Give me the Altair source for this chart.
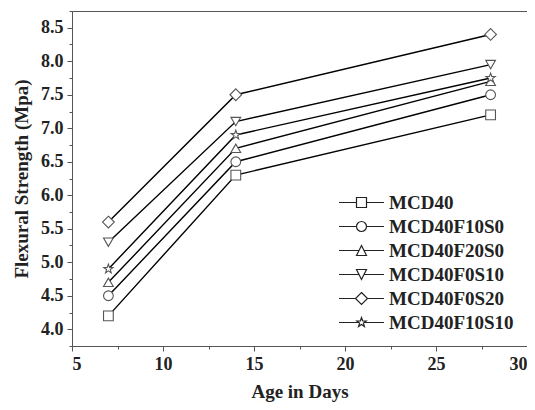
import altair as alt
import pandas as pd

days = [7, 14, 28]
series = ["MCD40", "MCD40F10S0", "MCD40F20S0", "MCD40F0S10", "MCD40F0S20", "MCD40F10S10"]
mcd40 = [4.2, 6.3, 7.2]
mcd40f10s0 = [4.5, 6.5, 7.5]
mcd40f20s0 = [4.7, 6.7, 7.7]
mcd40f0s10 = [5.3, 7.1, 7.95]
mcd40f0s20 = [5.6, 7.5, 8.4]
mcd40f10s10 = [4.9, 6.9, 7.75]

values = [mcd40, mcd40f10s0, mcd40f20s0, mcd40f0s10, mcd40f0s20, mcd40f10s10]
rows = []
for name, vals in zip(series, values):
    for d, v in zip(days, vals):
        rows.append({"series": name, "day": d, "strength": v})
df = pd.DataFrame(rows)

star = ("M0,-1L0.235,-0.324L0.951,-0.309L0.380,0.124L0.588,0.809L0,0.4"
        "L-0.588,0.809L-0.380,0.124L-0.951,-0.309L-0.235,-0.324Z")
diamond = "M0,-1.2L1.2,0L0,1.2L-1.2,0Z"
point_shapes = ["square", "circle", "triangle-up", "triangle-down", diamond, star]

L = "M-4.5,0H-1M1,0H4.5"
legend_shapes = [
    L + "M-1,-1H1V1H-1Z",
    L + "M-1,0A1,1,0,1,0,1,0A1,1,0,1,0,-1,0Z",
    "M-4.5,0H-0.5M0.5,0H4.5M0,-1L1,1H-1Z",
    "M-4.5,0H-0.5M0.5,0H4.5M-1,-1H1L0,1Z",
    "M-4.5,0H-1.2M1.2,0H4.5" + diamond,
    "M-4.5,0H-0.6M0.6,0H4.5" + star,
]

FONT = "Liberation Serif"

x_axis = alt.Axis(
    title="Age in Days",
    values=[5, 7.5, 10, 12.5, 15, 17.5, 20, 22.5, 25, 27.5, 30],
    labelExpr="datum.value % 5 == 0 ? datum.label : ''",
    tickSize={"condition": {"test": "datum.value % 5 != 0", "value": 3}, "value": 5},
    grid=False, labelFontSize=18, titleFontSize=19, labelPadding=4, titlePadding=9,
    labelFont=FONT, titleFont=FONT, labelFontWeight="bold", titleFontWeight="bold",
)
y_axis = alt.Axis(
    title="Flexural Strength (Mpa)",
    values=[3.75 + 0.25 * i for i in range(21)],
    labelExpr="round(datum.value*4) % 2 == 0 ? format(datum.value, '.1f') : ''",
    tickSize={"condition": {"test": "round(datum.value*4) % 2 != 0", "value": 3}, "value": 5},
    grid=False, labelFontSize=18, titleFontSize=19, labelPadding=4, titlePadding=9,
    labelFont=FONT, titleFont=FONT, labelFontWeight="bold", titleFontWeight="bold",
)

x = alt.X("day:Q", scale=alt.Scale(domain=[5, 30], nice=False), axis=x_axis)
y = alt.Y("strength:Q", scale=alt.Scale(domain=[3.75, 8.75], nice=False, zero=False), axis=y_axis)

lines = alt.Chart(df).mark_line(color="black", strokeWidth=1.4).encode(
    x=x, y=y, detail="series:N"
)
points = alt.Chart(df).mark_point(
    filled=False, fill="white", fillOpacity=1, stroke="#555", strokeWidth=1.1, size=95, opacity=1
).encode(
    x=x, y=y,
    shape=alt.Shape("series:N", scale=alt.Scale(domain=series, range=point_shapes), legend=None),
)
legend_layer = alt.Chart(df).mark_point(opacity=0, size=100).encode(
    x=x, y=y,
    shape=alt.Shape(
        "series:N",
        scale=alt.Scale(domain=series, range=legend_shapes),
        legend=alt.Legend(
            title=None, orient="none", legendX=280, legendY=182,
            symbolOpacity=1, symbolFillColor="white", symbolStrokeColor="#222",
            symbolStrokeWidth=1.2, symbolSize=100, labelFontSize=19,
            labelFont=FONT, labelFontWeight="bold", labelColor="#222",
            labelOffset=18, rowPadding=4, padding=0,
        ),
    ),
)

chart = alt.layer(lines, points, legend_layer).resolve_scale(shape="independent").properties(
    width=455, height=335,
    background="white",
    autosize=alt.AutoSizeParams(type="none"),
    padding={"left": 64, "top": 3, "right": 0, "bottom": 61},
).configure_view(stroke="#555", strokeWidth=1).configure_axis(
    labelColor="#222", titleColor="#222", domainColor="#555", tickColor="#555",
)

chart.save("out.html", embed_options={"renderer": "svg", "actions": False})
